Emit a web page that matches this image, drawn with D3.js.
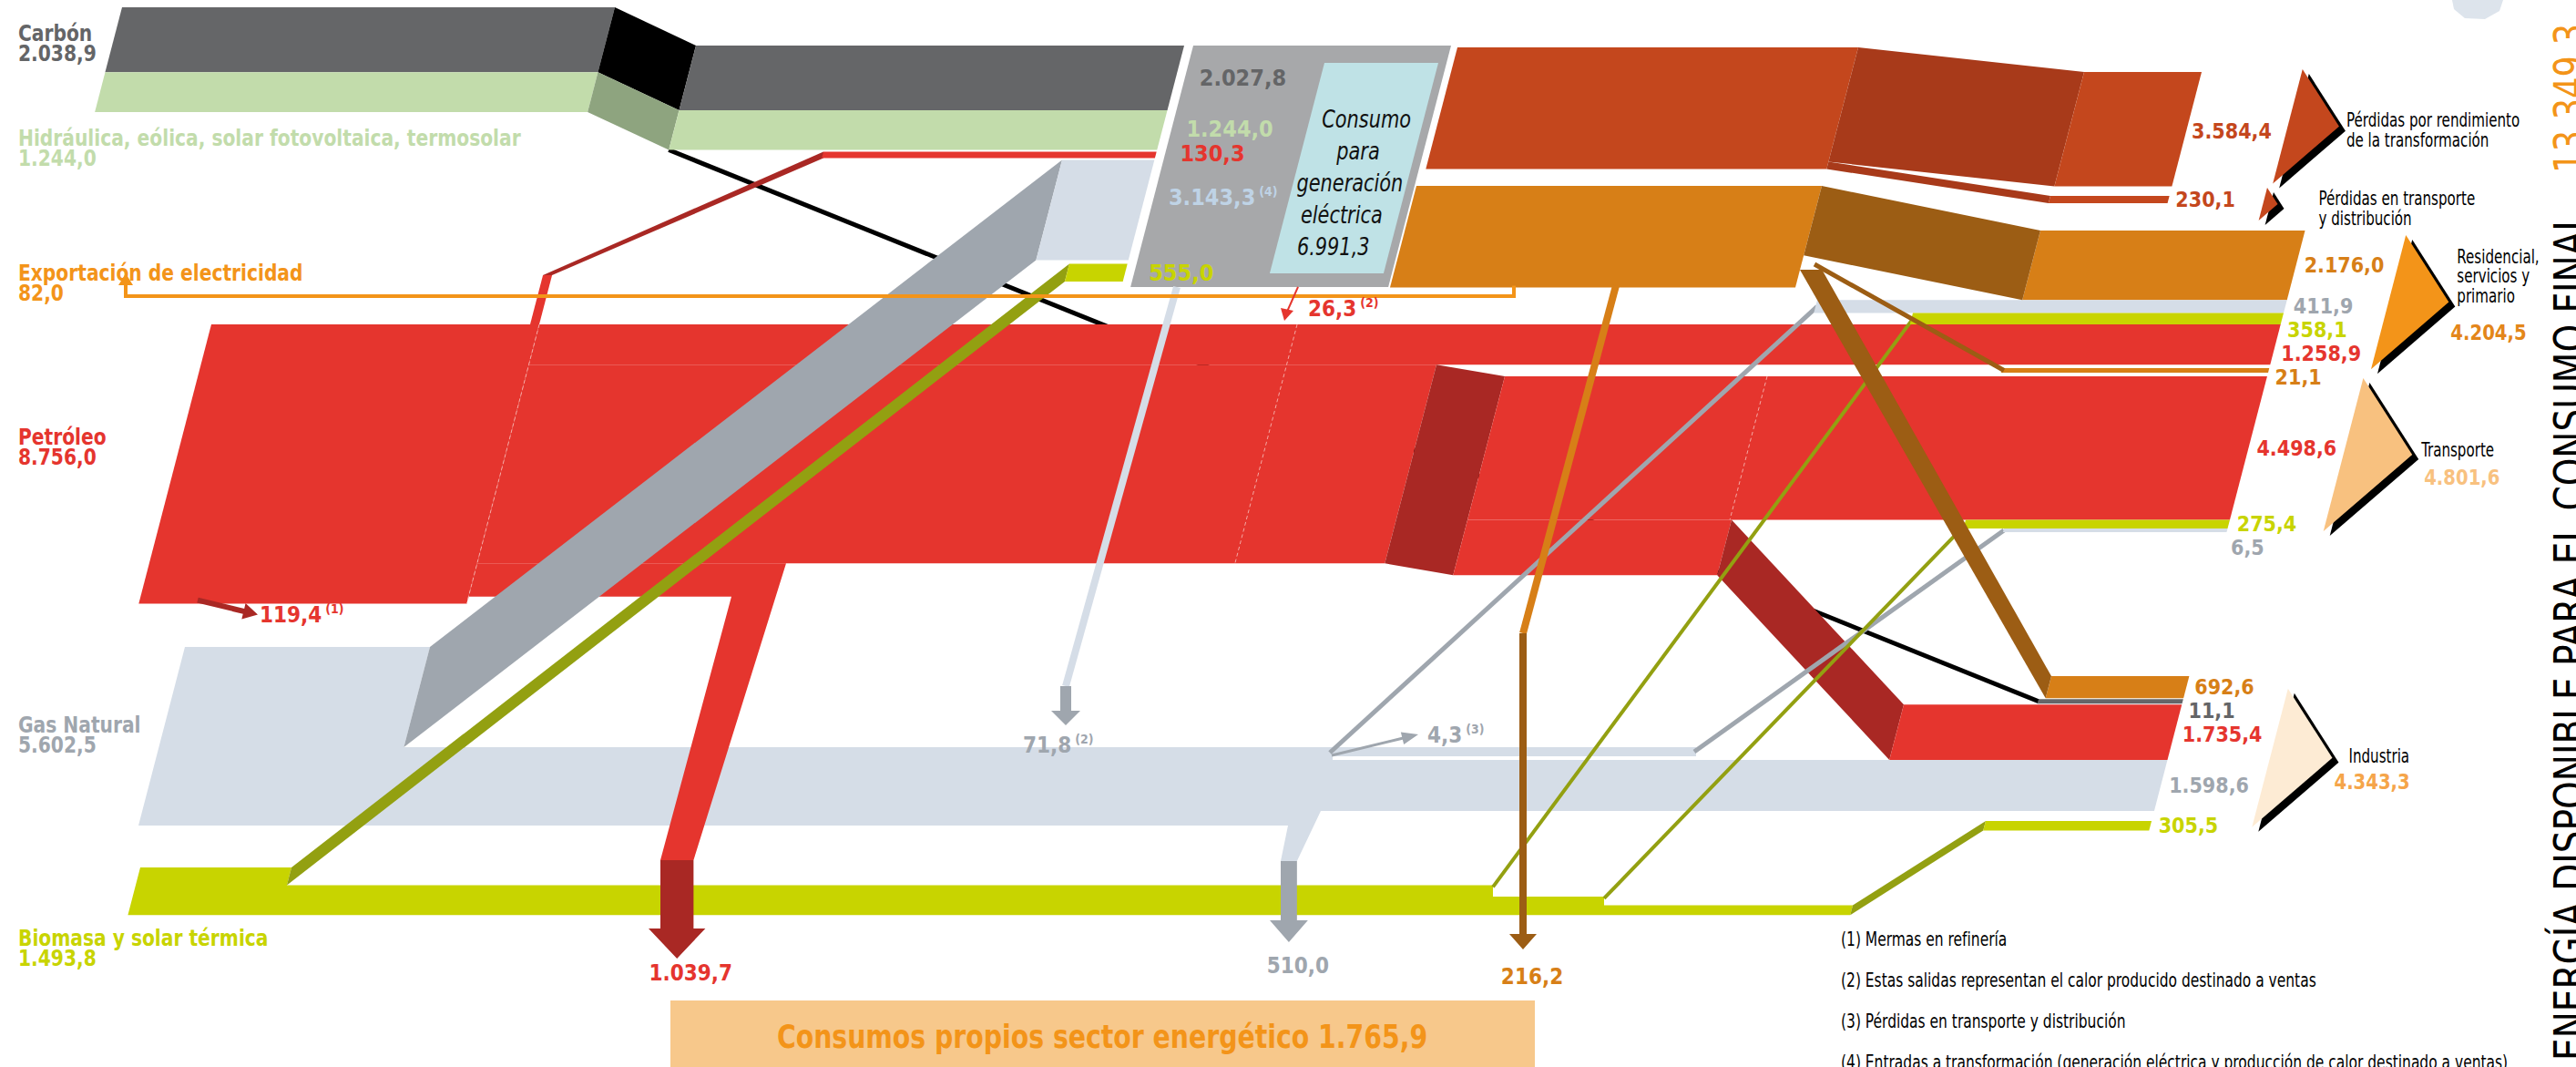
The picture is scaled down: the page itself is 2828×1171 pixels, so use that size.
<!DOCTYPE html>
<html lang="es"><head><meta charset="utf-8"><title>Balance energético</title>
<script src="https://d3js.org/d3.v7.min.js"></script>
<style>
 html,body{margin:0;padding:0;background:#fff;overflow:hidden}
 svg{display:block}
 text{font-family:"Liberation Sans Narrow","Arial Narrow","DejaVu Sans Condensed",sans-serif}
</style></head><body>
<svg id="chart" width="2828" height="1171" viewBox="0 0 2828 1171"></svg>
<script>
// ================= DATA (ktep) =================
const sourceNames = ["Carbón", "Hidráulica, eólica, solar fotovoltaica, termosolar", "Exportación de electricidad", "Petróleo", "Gas Natural", "Biomasa y solar térmica"];
const sourceValues = [2038.9, 1244.0, 82.0, 8756.0, 5602.5, 1493.8];
const genInputValues = [2027.8, 1244.0, 130.3, 3143.3, 555.0];   // carbón, renovables, petróleo, gas, biomasa
const genCaption = ["Consumo", "para", "generación", "eléctrica"];
const genTotal = 6991.3;
const lossNames = [["Pérdidas por rendimiento", "de la transformación"], ["Pérdidas en transporte", "y distribución"]];
const lossValues = [3584.4, 230.1];
const sectorNames = [["Residencial,", "servicios y", "primario"], ["Transporte"], ["Industria"]];
const sectorTotals = [4204.5, 4801.6, 4343.3];
const residentialFlows = [2176.0, 411.9, 358.1, 1258.9];      // electricidad, gas, biomasa, petróleo
const transportFlows = [21.1, 4498.6, 275.4, 6.5];            // electricidad, petróleo, biomasa, gas
const industryFlows = [692.6, 11.1, 1735.4, 1598.6, 305.5];   // electricidad, carbón, petróleo, gas, biomasa
const ownUseValues = [1039.7, 510.0, 216.2];                  // petróleo, gas, electricidad
const ownUseTotal = 1765.9;
const heatSales = [26.3, 71.8];                               // petróleo, gas  (2)
const refineryLoss = 119.4;                                   // (1)
const gasGridLoss = 4.3;                                      // (3)
const finalTotal = 13349.3;
const footnotes = ["(1) Mermas en refinería", "(2) Estas salidas representan el calor producido destinado a ventas", "(3) Pérdidas en transporte y distribución", "(4) Entradas a transformación (generación eléctrica y producción de calor destinado a ventas)"];

// ================= SETUP =================
const svg = d3.select("#chart");
const w = d3.scaleLinear().domain([0, 10000]).range([0, 350]);   // band thickness
const wm = (v, m) => Math.max(w(v), m);
const K = 0.26;  // slant of band ends
const es = d3.formatLocale({decimal: ",", thousands: ".", grouping: [3], currency: ["", " €"]});
const fmt = es.format(",.1f");
const lineGen = d3.line();
const C = {
  carbon: "#656668", carbonFace: "#000000", carbonTxt: "#646567",
  hydro: "#c2dcab", hydroFace: "#8ea47f",
  oil: "#e5352e", oilDark: "#a92824",
  gas: "#d5dde7", gasDark: "#9fa6ae", gasTxt: "#bfd3e6",
  bio: "#c8d400", bioDark: "#93a011",
  gen: "#a7a8aa", genInner: "#bfe2e6",
  loss: "#c4471d", lossFace: "#a83a1a",
  elec: "#d77f17", elecDark: "#9c5d14", export: "#f39419",
  res: "#f39419", trans: "#f8c17f", ind: "#fdebd4", own: "#f7c88b"
};
function poly(pts, fill) { return svg.append("path").attr("d", lineGen(pts) + "Z").attr("fill", fill); }
function para(xTL, xTR, y, h, fill) { return poly([[xTL, y], [xTR, y], [xTR - K * h, y + h], [xTL - K * h, y + h]], fill); }
function stroke(pts, color, width) { return svg.append("path").attr("d", lineGen(pts)).attr("fill", "none").attr("stroke", color).attr("stroke-width", width); }
function arrowPts(x1, y1, x2, y2, sw, hw, hl) {
  const dx = x2 - x1, dy = y2 - y1, L = Math.hypot(dx, dy), ux = dx / L, uy = dy / L, nx = -uy, ny = ux;
  const bx = x2 - ux * hl, by = y2 - uy * hl;
  return [[x1 + nx * sw / 2, y1 + ny * sw / 2], [bx + nx * sw / 2, by + ny * sw / 2], [bx + nx * hw / 2, by + ny * hw / 2], [x2, y2],
          [bx - nx * hw / 2, by - ny * hw / 2], [bx - nx * sw / 2, by - ny * sw / 2], [x1 - nx * sw / 2, y1 - ny * sw / 2]];
}
function label(x, y, s, o = {}) {
  const sx = o.sx || 1;
  const t = svg.append("text").attr("transform", `translate(${x},${y}) scale(${sx},1)`)
    .attr("font-size", o.size || 24).attr("font-weight", o.weight || "bold")
    .attr("fill", o.fill || "#000").attr("text-anchor", o.anchor || "start");
  if (o.italic) t.attr("font-style", "italic");
  t.append("tspan").text(s);
  if (o.sup) t.append("tspan").attr("font-size", 14).attr("dy", -10).attr("dx", 4).text(o.sup);
  return t;
}
// multi-line label as one text element
function block(x, y, lines, step, o = {}) {
  const t = svg.append("text").attr("transform", `translate(${x},${y}) scale(${o.sx || 1},1)`)
    .attr("font-size", o.size || 24).attr("font-weight", o.weight || "bold").attr("fill", o.fill || "#000");
  lines.forEach((s, i) => t.append("tspan").attr("x", 0).attr("dy", i ? step : 0).text(s));
  return t;
}

// ================= LAYOUT =================
const RX = y => 2523 - K * (y - 282);    // right end of consumption bands
const RXL = y => 2417 - K * (y - 79);    // right end of loss bands
const RES_TOP = 253;
const resH = residentialFlows.map(v => w(v));
const resY = []; { let y = RES_TOP; resH.forEach(h => { resY.push(y); y += h; }); }
const TR_TOP = 404;
const trH = [wm(transportFlows[0], 5), w(transportFlows[1]), w(transportFlows[2]), wm(transportFlows[3], 4)];
const trY = [TR_TOP, TR_TOP + trH[0] + 4]; trY.push(trY[1] + trH[1]); trY.push(trY[2] + trH[2]);
const IND_TOP = 742;
const indH = [w(industryFlows[0]), wm(industryFlows[1], 5), w(industryFlows[2]), w(industryFlows[3]), w(industryFlows[4])];
const indY = [IND_TOP]; indY.push(indY[0] + indH[0] + 1); indY.push(indY[1] + indH[1] + 1); indY.push(indY[2] + indH[2]); indY.push(indY[3] + indH[3] + 11);
const GEN_TOP = 50;
const genH = [w(genInputValues[0]), w(genInputValues[1]), wm(genInputValues[2], 7), w(genInputValues[3]), w(genInputValues[4])];
const genGap = [0, 0, 2, 2, 4];
const genY = []; { let y = GEN_TOP; genH.forEach((h, i) => { y += genGap[i]; genY.push(y); y += h; }); }
const genBottom = genY[4] + genH[4] + 6;
const genLeft = y => 1310 - K * (y - GEN_TOP);
const inEnd = y => genLeft(y) - 10;
const CAR_TOP = 8, hCar = w(sourceValues[0]), hHyd = w(sourceValues[1]);
const PET_TOP = resY[3], hPet = w(sourceValues[3]);
const GAS_TOP = 710, hGas = w(sourceValues[4]);
const BIO_TOP = 952, hBio = w(sourceValues[5]);

// ================= DRAW =================
poly([[2692, 0], [2748, 0], [2744, 12], [2728, 21], [2706, 20], [2694, 10]], "#dde4ec");   // map fragment

// carbon -> industry line (behind)
stroke([[764 - K * (genH[0] + genH[1]), genY[1] + genH[1]], [2238, indY[1] + indH[1] / 2]], "#000", 5);

// ---- Gas body ----
const hGasGen = w(genInputValues[3]);
const gasBot = GAS_TOP + hGas;
const gThinTop = GAS_TOP + hGasGen, gThinH = 10, gSplit = 1460, gThinEnd = 1862;
const g510 = w(ownUseValues[1]), gbX = 1414, gArrowTop = 945;
const gMainTop = indY[3], gMainBot = indY[3] + indH[3];
poly([[203, GAS_TOP], [472, GAS_TOP], [472 - K * hGasGen, gThinTop], [gThinEnd, gThinTop], [gThinEnd, gThinTop + gThinH],
      [gSplit + 3, gThinTop + gThinH], [gSplit + 3, gMainTop], [RX(gMainTop), gMainTop], [RX(gMainBot), gMainBot],
      [gbX + 36, gMainBot], [gbX - 8 + g510, gArrowTop], [gbX - 8, gArrowTop], [gbX, gasBot], [203 - K * hGas, gasBot]], C.gas);

// ---- Biomass body ----
const hBioGen = w(genInputValues[4]);
const by1 = BIO_TOP + hBioGen, by2 = by1 + w(residentialFlows[2]), by3 = by2 + w(transportFlows[2]), bioBot = BIO_TOP + hBio;
poly([[154, BIO_TOP], [320, BIO_TOP], [320 - K * hBioGen, by1], [1639, by1], [1639, by2], [1761, by2], [1761, by3], [2034, by3],
      [2034 - K * (bioBot - by3), bioBot], [154 - K * hBio, bioBot]], C.bio);
poly([[2034, by3], [2180, indY[4]], [2180 - K * indH[4], indY[4] + indH[4]], [2034 - K * (bioBot - by3), bioBot]], C.bioDark);
para(2180, RX(indY[4]), indY[4], indH[4], C.bio);

// ---- Petróleo ----
const seamX = 592;
para(232, seamX, PET_TOP, hPet, C.oil);
const hResOil = resH[3], hMid = w(transportFlows[1] + industryFlows[2]), hOwnOil = w(ownUseValues[0]);
const midTop = PET_TOP + hResOil, ownTop = midTop + hMid, ownBot = ownTop + hOwnOil;
para(seamX, RX(PET_TOP), PET_TOP, hResOil, C.oil);
const faceX = 1577, trTopX = 1652;
para(seamX - K * hResOil, faceX, midTop, hMid, C.oil);
const xOwnL = seamX - K * (ownTop - PET_TOP);
const ownShaft = w(ownUseValues[0]), ownX = 725, ownArrowTop = 944;
poly([[xOwnL, ownTop], [863, ownTop], [ownX + ownShaft, ownArrowTop], [ownX, ownArrowTop], [803, ownBot], [xOwnL - K * hOwnOil, ownBot]], C.oil);
poly([[faceX, midTop], [trTopX, trY[1]], [trTopX - K * hMid, trY[1] + hMid], [faceX - K * hMid, ownTop]], C.oilDark);
para(trTopX, RX(trY[1]), trY[1], trH[1], C.oil);
const indOilTop = trY[1] + trH[1];
para(trTopX - K * trH[1], 1901, indOilTop, indH[2], C.oil);
poly([[1901, indOilTop], [2090, indY[2]], [2090 - K * indH[2], indY[2] + indH[2]], [1901 - K * indH[2], indOilTop + indH[2]]], C.oilDark);
para(2090, RX(indY[2]), indY[2], indH[2], C.oil);
[[seamX, PET_TOP, PET_TOP + hPet], [1424, PET_TOP, ownTop], [1940, trY[1], indOilTop]].forEach(s => {
  stroke([[s[0], s[1]], [s[0] - K * (s[2] - s[1]), s[2]]], "#f4a9a4", 1).attr("stroke-dasharray", "4,3");
});
poly([[ownX, ownArrowTop], [ownX + ownShaft, ownArrowTop], [ownX + ownShaft, 1019], [ownX + ownShaft + 13, 1019], [ownX + ownShaft / 2, 1052], [ownX - 13, 1019], [ownX, 1019]], C.oilDark);
poly(arrowPts(217, PET_TOP + hPet - 4, 283, PET_TOP + hPet + 12, wm(refineryLoss, 6), 18, 16), C.oilDark);

// ---- gas & biomass diagonals to generation ----
poly([[472, GAS_TOP], [1166, genY[3]], [1166 - K * hGasGen, genY[3] + hGasGen], [472 - K * hGasGen, gThinTop]], C.gasDark);
poly([[320, BIO_TOP], [1174, genY[4]], [1174 - K * hBioGen, genY[4] + hBioGen], [320 - K * hBioGen, by1]], C.bioDark);

// ---- Carbón & renovables ----
const genC2 = genH[0];
para(134, 675, CAR_TOP, hCar, C.carbon);
para(134 - K * hCar, 675 - K * hCar, CAR_TOP + hCar, hHyd, C.hydro);
poly([[675, CAR_TOP], [764, GEN_TOP], [764 - K * genC2, GEN_TOP + genC2], [675 - K * hCar, CAR_TOP + hCar]], C.carbonFace);
poly([[675 - K * hCar, CAR_TOP + hCar], [764 - K * genC2, GEN_TOP + genC2], [764 - K * (genC2 + genH[1]), GEN_TOP + genC2 + genH[1]], [675 - K * (hCar + hHyd), CAR_TOP + hCar + hHyd]], C.hydroFace);
para(764, inEnd(genY[0]), genY[0], genH[0], C.carbon);
para(764 - K * genH[0], inEnd(genY[1]), genY[1], genH[1], C.hydro);
const rH = genH[2], riserTop = 302;
poly([[seamX - 10 + K * (PET_TOP - riserTop), riserTop], [seamX + K * (PET_TOP - riserTop), riserTop], [seamX, PET_TOP], [seamX - 10, PET_TOP]], C.oil);
poly([[seamX - 10 + K * (PET_TOP - riserTop), riserTop], [904, genY[2]], [904, genY[2] + rH], [seamX + K * (PET_TOP - riserTop), riserTop]], C.oilDark);
para(904, inEnd(genY[2]), genY[2], rH, C.oil);
para(1166, inEnd(genY[3]), genY[3], genH[3], C.gas);
para(1174, inEnd(genY[4]), genY[4], genH[4], C.bio);

// ---- Generation box ----
const genHeight = genBottom - GEN_TOP;
para(1310, 1593, GEN_TOP, genHeight, C.gen);
const cyTop = GEN_TOP + 19, cyH = genBottom - 15 - cyTop;
para(1454, 1579, cyTop, cyH, C.genInner);
const cyCenter = y => (1454 + 1579) / 2 - K * (y - cyTop);
genCaption.concat([fmt(genTotal)]).forEach((s, i) => {
  const y = 140 + i * 35;
  label(cyCenter(y - 8), y, s, {size: 27, weight: "normal", italic: true, anchor: "middle", sx: 0.86, fill: "#111"});
});
const genLabelColors = [C.carbonTxt, C.hydro, C.oil, C.gasTxt, C.bio];
const genLabelY = [genY[0] + genH[0] / 2, genY[1] + genH[1] / 2 - 2, genY[1] + genH[1] / 2 + 25, genY[3] + 40, genY[4] + genH[4] / 2];
genInputValues.forEach((v, i) => {
  const yc = genLabelY[i];
  label(genLeft(yc) + 16, yc + 9, fmt(v), {fill: genLabelColors[i], size: 25, sup: i === 3 ? "(4)" : null});
});

// ---- Losses ----
const hLoss = w(lossValues[0]), hTD = w(lossValues[1]);
const LOSS_TOP = 52, LOSS2_TOP = 79, TD_TOP = 215;
para(1600, 2040, LOSS_TOP, hLoss + hTD, C.loss);
poly([[2040, LOSS_TOP], [2288, LOSS2_TOP], [2288 - K * hLoss, LOSS2_TOP + hLoss], [2040 - K * hLoss, LOSS_TOP + hLoss]], C.lossFace);
para(2288, RXL(LOSS2_TOP), LOSS2_TOP, hLoss, C.loss);
poly([[2040 - K * hLoss, LOSS_TOP + hLoss], [2251, TD_TOP], [2251 - K * hTD, TD_TOP + hTD], [2040 - K * (hLoss + hTD), LOSS_TOP + hLoss + hTD]], C.lossFace);
para(2251, RXL(TD_TOP), TD_TOP, hTD, C.loss);

// ---- Electricity ----
const elecTotal = residentialFlows[0] + transportFlows[0] + industryFlows[0] + ownUseValues[2] + sourceValues[2];
const ELEC_TOP = 204, hElec = w(elecTotal);
para(1555, 2000, ELEC_TOP, hElec, C.elec);
const elecBot = ELEC_TOP + hElec;

// ---- thin lines ----
stroke([[1292, genBottom], [1170, 753]], C.gas, wm(heatSales[1], 8));
poly([[1164, 753], [1176, 753], [1176, 780], [1186, 780], [1170, 796], [1154, 780], [1164, 780]], C.gasDark);
stroke([[gSplit, gThinTop + 6], [1995, resY[1] + resH[1] / 2]], C.gasDark, 5);
stroke([[gThinEnd - 2, gThinTop + 5], [2200, trY[3] + 2]], C.gasDark, 5);
poly(arrowPts(gSplit + 2, gThinTop + 9, 1557, 806, 3, 14, 18), C.gasDark);
stroke([[1639, by1 + 2], [2100, resY[2] + resH[2] / 2]], C.bioDark, 4);
stroke([[1761, by2 + 2], [2158, trY[2] + trH[2] / 2]], C.bioDark, 4);
poly([[gbX - 8, gArrowTop], [gbX - 8 + g510, gArrowTop], [gbX - 8 + g510, 1010], [gbX - 8 + g510 + 12, 1010], [gbX - 8 + g510 / 2, 1034], [gbX - 8 - 12, 1010], [gbX - 8, 1010]], C.gasDark);
stroke([[1662, elecBot - 2], [1662, 325], [138, 325], [138, 312]], C.export, wm(sourceValues[2], 4));
poly([[130, 313], [146, 313], [138, 300]], C.export);
const eS = wm(ownUseValues[2], 8);
stroke([[1774, elecBot - 2], [1672, 695]], C.elec, eS);
poly([[1668, 695], [1668 + eS, 695], [1668 + eS, 1025], [1668 + eS + 11, 1025], [1668 + eS / 2, 1042], [1668 - 11, 1025], [1668, 1025]], C.elecDark);
stroke([[1425, genBottom], [1413, 342]], C.oil, 2);
poly([[1406, 338], [1420, 341], [1410, 352]], C.oil);

// ---- consumption boxes ----
para(2240, RX(resY[0]), resY[0], resH[0], C.elec);
para(1995, RX(resY[1]), resY[1], resH[1], C.gas);
para(2100, RX(resY[2]), resY[2], resH[2], C.bio);
para(2198, RX(trY[0]), trY[0], trH[0], C.elec);
para(2158, RX(trY[2]), trY[2], trH[2], C.bio);
para(2200, RX(trY[3]), trY[3], trH[3], C.gas);
para(2252, RX(indY[0]), indY[0], indH[0], C.elec);
para(2238, RX(indY[1]), indY[1], indH[1], C.carbon);

// ---- electricity fan ----
poly([[2000, ELEC_TOP], [2240, resY[0]], [2240 - K * resH[0], resY[0] + resH[0]], [2000 - K * resH[0], ELEC_TOP + resH[0]]], C.elecDark);
stroke([[1992, ELEC_TOP + 86], [2200, trY[0] + trH[0] / 2]], C.elecDark, 5);
poly([[1976, 296], [1976 + indH[0], 296], [2252, indY[0]], [2252 - K * indH[0], indY[0] + indH[0]]], C.elecDark);

// ---- sector triangles ----
function tri(yc, h, xc, fill) {
  const pts = [[xc + K * h / 2, yc - h / 2], [xc + 0.45 * h, yc], [xc - K * h / 2, yc + h / 2]];
  poly(pts, "#000").attr("transform", "translate(7,5)");
  poly(pts, fill);
  return xc + 0.45 * h;
}
const lossYc = LOSS2_TOP + hLoss / 2 - 3;
const apL = tri(lossYc, hLoss, RXL(lossYc) + 110, C.loss);
const tdYc = 224;
const apTD = tri(tdYc, Math.max(hTD, 36), RXL(tdYc) + 105, C.loss);
const resYc = (resY[0] + resY[3] + resH[3]) / 2 + 5;
const apR = tri(resYc, w(sectorTotals[0]), RX(resYc) + 112, C.res);
const trYc = (trY[0] + trY[3] + trH[3]) / 2 + 5;
const apT = tri(trYc, w(sectorTotals[1]), RX(trYc) + 106, C.trans);
const indYc = (indY[0] + indY[4] + indH[4]) / 2 + 5;
const apI = tri(indYc, w(sectorTotals[2]), RX(indYc) + 112, C.ind);

const nrm = {weight: "normal", size: 21, sx: 0.8};
block(apL + 8, lossYc, lossNames[0], 22, nrm);
block(apTD + 45, tdYc + 1, lossNames[1], 22, nrm);
block(apR + 9, resYc - 43, sectorNames[0], 21.5, nrm);
label(apR + 2, resYc + 41, fmt(sectorTotals[0]), {fill: "#e3861a", size: 23, sx: 0.95});
label(apT + 10, trYc + 2, sectorNames[1][0], nrm);
label(apT + 13, trYc + 33, fmt(sectorTotals[1]), {fill: C.trans, size: 23, sx: 0.95});
label(apI + 18, indYc + 5, sectorNames[2][0], nrm);
label(apI + 2, indYc + 34, fmt(sectorTotals[2]), {fill: "#f5a54a", size: 23, sx: 0.95});

// ---- value labels at band ends ----
const endItems = [
  {v: residentialFlows[0], y: resY[0], h: resH[0], c: C.elec}, {v: residentialFlows[1], y: resY[1], h: resH[1], c: C.gasDark},
  {v: residentialFlows[2], y: resY[2], h: resH[2], c: C.bio}, {v: residentialFlows[3], y: resY[3], h: resH[3], c: C.oil},
  {v: transportFlows[0], y: trY[0], h: trH[0], c: C.elec},
  {v: transportFlows[1], y: trY[1], h: trH[1], c: C.oil}, {v: transportFlows[2], y: trY[2], h: trH[2], c: C.bio},
  {v: transportFlows[3], y: trY[3], h: trH[3], c: C.gasDark},
  {v: industryFlows[0], y: indY[0], h: indH[0], c: C.elec}, {v: industryFlows[1], y: indY[1], h: indH[1], c: C.carbonTxt},
  {v: industryFlows[2], y: indY[2], h: indH[2], c: C.oil}, {v: industryFlows[3], y: indY[3], h: indH[3], c: C.gasDark},
  {v: industryFlows[4], y: indY[4], h: indH[4], c: C.bio}
];
let prevY = -1e9;
endItems.forEach(it => {
  const yc = Math.max(it.y + it.h / 2, prevY + 26); prevY = yc;
  label(RX(yc) + 9, yc + 8, fmt(it.v), {fill: it.c, size: 23});
});
label(RXL(LOSS2_TOP + 65) + 6, LOSS2_TOP + 73, fmt(lossValues[0]), {fill: C.loss, size: 23});
label(RXL(TD_TOP + 5) + 8, TD_TOP + 12, fmt(lossValues[1]), {fill: C.loss, size: 23});

// ---- other labels ----
label(285, PET_TOP + hPet + 20, fmt(refineryLoss), {fill: C.oil, size: 24, sup: "(1)"});
label(1436, 347, fmt(heatSales[0]), {fill: C.oil, size: 24, sup: "(2)"});
label(1123, 826, fmt(heatSales[1]), {fill: C.gasDark, size: 24, sup: "(2)"});
label(1567, 815, fmt(gasGridLoss), {fill: C.gasDark, size: 24, sup: "(3)"});
label(ownX + ownShaft / 2 + 15, 1076, fmt(ownUseValues[0]), {fill: C.oil, size: 24, anchor: "middle"});
label(gbX - 8 + g510 / 2 + 10, 1068, fmt(ownUseValues[1]), {fill: C.gasDark, size: 24, anchor: "middle"});
label(1682, 1080, fmt(ownUseValues[2]), {fill: C.elec, size: 24, anchor: "middle"});

// source labels (name + value as one two-line text)
const srcColors = [C.carbonTxt, C.hydro, C.export, C.oil, C.gasDark, C.bio];
const srcBase = [45, 160, 308, 488, 804, 1038];
sourceNames.forEach((s, i) => block(20, srcBase[i], [s, fmt(sourceValues[i])], 22, {fill: srcColors[i], size: 25, sx: 0.9}));

svg.append("rect").attr("x", 736).attr("y", 1098).attr("width", 949).attr("height", 80).attr("fill", C.own);
label(1210, 1150, "Consumos propios sector energético " + fmt(ownUseTotal), {fill: C.export, size: 35, anchor: "middle", sx: 0.9});

block(2021, 1038, footnotes, 45, {weight: "normal", size: 21, sx: 0.82});

// vertical title (partly cut at the right edge, as in the original)
svg.append("text").attr("transform", "translate(2838,1164) rotate(-90)").attr("font-size", 48)
  .attr("font-family", "Lato, 'Open Sans', sans-serif").attr("font-weight", 300).attr("fill", "#000")
  .attr("textLength", 932).attr("lengthAdjust", "spacingAndGlyphs").text("ENERGÍA DISPONIBLE PARA EL CONSUMO FINAL");
svg.append("text").attr("transform", "translate(2838,190) rotate(-90)").attr("font-size", 48)
  .attr("font-family", "Lato, 'Open Sans', sans-serif").attr("font-weight", 300).attr("fill", C.export)
  .attr("textLength", 164).attr("lengthAdjust", "spacingAndGlyphs").text(fmt(finalTotal));
</script></body></html>
